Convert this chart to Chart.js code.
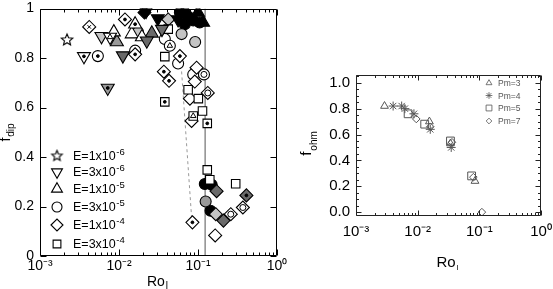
<!doctype html>
<html lang="en">
<head>
<meta charset="utf-8">
<title>f_dip and f_ohm versus Ro_l</title>
<script src="https://cdn.jsdelivr.net/npm/chart.js@4.4.0/dist/chart.umd.min.js"></script>
<style>
  html, body { margin: 0; padding: 0; background: #fff; }
  #wrap { position: relative; width: 553px; height: 289px; overflow: hidden; }
  #left { position: absolute; left: 0; top: 0; }
  #right { position: absolute; left: 285px; top: 0; }
</style>
</head>
<body>
<div id="wrap">
  <canvas id="left" width="298" height="289"></canvas>
  <canvas id="right" width="268" height="289"></canvas>
</div>
<script>
// ---- left panel: f_dip vs Ro_l, points are [Ro_l, f_dip, inner mark]
const eMant = ['1', '3', '1', '3', '1', '3'];
const eExp = ['-6', '-6', '-5', '-5', '-4', '-4'];
const eShapes = ['star', 'tdown', 'tup', 'circ', 'diam', 'sq'];

const starWhite = [[0.0022, 0.873]];

const tdownWhite = [[0.0036, 0.807, 'dot'], [0.0077, 0.885, 'tri']];
const tdownLight = [[0.0060, 0.888]];
const tdownGray = [[0.0072, 0.679, 'dot']];
const tdownDark = [[0.0112, 0.81], [0.0225, 0.87], [0.035, 0.917]];
const tdownBlack = [[0.022, 0.99], [0.031, 0.96], [0.056, 0.956]];

const tupWhite = [[0.0086, 0.905], [0.0145, 0.897], [0.016, 0.937, 'dot'], [0.0195, 0.885]];
const tupGray = [[0.0094, 0.865]];
const tupDark = [[0.026, 0.90]];
const tupBlack = [[0.068, 0.996], [0.10, 0.984], [0.116, 0.944]];

const circWhite = [[0.0054, 0.808, 'dot'], [0.016, 0.83], [0.038, 0.877], [0.044, 0.85, 'tri'],
  [0.056, 0.778], [0.087, 0.734], [0.119, 0.734, 'ring']];
const circLight = [[0.0174, 0.905], [0.062, 0.897], [0.092, 0.865]];
const circGray = [[0.125, 0.22]];
const circBlack = [[0.059, 0.984], [0.075, 0.968], [0.087, 0.952], [0.105, 0.944], [0.068, 0.937],
  [0.122, 0.291], [0.149, 0.288], [0.144, 0.183]];

const diamWhite = [[0.0042, 0.926, 'x'], [0.0119, 0.956, 'dot'], [0.016, 0.815, 'dot'], [0.059, 0.808, 'dot'],
  [0.037, 0.745, 'dot'], [0.043, 0.708, 'dot'], [0.096, 0.761], [0.091, 0.705], [0.079, 0.636],
  [0.133, 0.659, 'ring'], [0.083, 0.546], [0.26, 0.169, 'ring'], [0.37, 0.196, 'ring'],
  [0.165, 0.083], [0.085, 0.136, 'dot']];
const diamLight = [[0.042, 0.956], [0.168, 0.169]];
const diamDark = [[0.172, 0.262], [0.21, 0.143], [0.41, 0.245, 'dot']];
const diamBlack = [[0.021, 0.984]];

const sqWhite = [[0.042, 0.917], [0.038, 0.806], [0.038, 0.623, 'dot'], [0.075, 0.672], [0.101, 0.636],
  [0.114, 0.586], [0.087, 0.566, 'tri'], [0.131, 0.536, 'dot'], [0.131, 0.348], [0.141, 0.308], [0.30, 0.292]];

const roCrit = 0.123;
const dashRo = [0.062, 0.083];
const dashF = [0.746, 0.155];

// ---- right panel: f_ohm vs Ro_l, [Ro_l, f_ohm]
const pmLabels = ['Pm=3', 'Pm=4', 'Pm=5', 'Pm=7'];
const pm3 = [[0.0029, 0.82], [0.0155, 0.70], [0.034, 0.53], [0.085, 0.24]];
const pm4 = [[0.0040, 0.82], [0.0055, 0.82], [0.0062, 0.80], [0.0087, 0.76], [0.016, 0.64], [0.035, 0.50]];
const pm5 = [[0.0070, 0.76], [0.013, 0.68], [0.034, 0.55], [0.075, 0.28]];
const pm7 = [[0.0095, 0.72], [0.016, 0.66], [0.036, 0.54], [0.080, 0.27], [0.11, 0.0]];

// ---- ticks
const xTicks = [0.001, 0.01, 0.1, 1];
const yTicksLeft = [0, 0.2, 0.4, 0.6, 0.8, 1];
const yTicksRight = [0, 0.2, 0.4, 0.6, 0.8, 1.0];

Chart.defaults.font.family = '"Liberation Sans", Arial, Helvetica, sans-serif';
Chart.defaults.color = '#000';

const SUP = { '-': '\u207B', '0': '\u2070', '1': '\u00B9', '2': '\u00B2', '3': '\u00B3' };
function decadeLabel(v) {
  const e = String(Math.round(Math.log10(v)));
  return '10' + e.split('').map(c => SUP[c]).join('');
}

// five point star marker, drawn once into a small canvas
function makeStar(r) {
  const c = document.createElement('canvas');
  const s = Math.ceil(r * 2 + 4);
  c.width = s; c.height = s;
  const g = c.getContext('2d');
  g.beginPath();
  for (let i = 0; i < 10; i++) {
    const a = -Math.PI / 2 + i * Math.PI / 5;
    const rr = i % 2 ? r * 0.45 : r;
    const px = s / 2 + Math.cos(a) * rr, py = s / 2 + Math.sin(a) * rr;
    if (i === 0) g.moveTo(px, py); else g.lineTo(px, py);
  }
  g.closePath();
  g.fillStyle = '#fff'; g.fill();
  g.lineWidth = 1.1; g.strokeStyle = '#000'; g.stroke();
  return c;
}
const starImg = makeStar(6);
const starSmall = makeStar(5.5);

const shapeStyle = {
  star: { pointStyle: starImg, rotation: 0, radius: 6 },
  tdown: { pointStyle: 'triangle', rotation: 180, radius: 7.5 },
  tup: { pointStyle: 'triangle', rotation: 0, radius: 7.5 },
  circ: { pointStyle: 'circle', rotation: 0, radius: 5.5 },
  diam: { pointStyle: 'rectRot', rotation: 0, radius: 6.5 },
  sq: { pointStyle: 'rect', rotation: 0, radius: 6 }
};
const legendStyle = {
  star: { pointStyle: starSmall, rotation: 0, radius: 5.5 },
  tdown: { pointStyle: 'triangle', rotation: 180, radius: 6.3 },
  tup: { pointStyle: 'triangle', rotation: 0, radius: 6.3 },
  circ: { pointStyle: 'circle', rotation: 0, radius: 5 },
  diam: { pointStyle: 'rectRot', rotation: 0, radius: 6 },
  sq: { pointStyle: 'rect', rotation: 0, radius: 5.5 }
};
const fills = { white: '#ffffff', light: '#c4c4c4', gray: '#9a9a9a', dark: '#6a6a6a', black: '#000000' };

function toXY(arr) { return arr.map(p => ({ x: p[0], y: p[1] })); }

function markerSet(arr, shape, fill) {
  const st = shapeStyle[shape];
  return {
    data: toXY(arr),
    pointStyle: st.pointStyle,
    rotation: st.rotation,
    pointRadius: st.radius,
    pointHoverRadius: st.radius,
    backgroundColor: fills[fill],
    borderColor: '#000',
    borderWidth: 1.1,
    order: 5
  };
}

const groups = [
  [starWhite, 'star', 'white'],
  [tdownWhite, 'tdown', 'white'], [tdownLight, 'tdown', 'light'], [tdownGray, 'tdown', 'gray'],
  [tdownDark, 'tdown', 'dark'], [tdownBlack, 'tdown', 'black'],
  [tupWhite, 'tup', 'white'], [tupGray, 'tup', 'gray'], [tupDark, 'tup', 'dark'], [tupBlack, 'tup', 'black'],
  [sqWhite, 'sq', 'white'],
  [diamWhite, 'diam', 'white'], [diamLight, 'diam', 'light'], [diamDark, 'diam', 'dark'], [diamBlack, 'diam', 'black'],
  [circWhite, 'circ', 'white'], [circLight, 'circ', 'light'], [circGray, 'circ', 'gray'], [circBlack, 'circ', 'black']
];

// small marks drawn inside some of the markers
const allPts = groups.flatMap(g => g[0]);
function innerSet(kind, style, radius, filled) {
  return {
    data: toXY(allPts.filter(p => p[2] === kind)),
    pointStyle: style,
    pointRadius: radius,
    pointHoverRadius: radius,
    backgroundColor: filled ? '#000' : 'rgba(0,0,0,0)',
    borderColor: '#000',
    borderWidth: 1,
    order: 0
  };
}

const leftSets = [
  { data: [{ x: roCrit, y: 0 }, { x: roCrit, y: 1 }], showLine: true, pointRadius: 0,
    borderColor: '#555', borderWidth: 1, order: 10 },
  { data: [{ x: dashRo[0], y: dashF[0] }, { x: dashRo[1], y: dashF[1] }], showLine: true, pointRadius: 0,
    borderColor: '#999', borderWidth: 1, borderDash: [3, 3], order: 10 }
].concat(groups.map(g => markerSet(g[0], g[1], g[2])))
 .concat([innerSet('dot', 'circle', 1.4, true), innerSet('ring', 'circle', 3, false),
          innerSet('tri', 'triangle', 3.2, false), innerSet('x', 'crossRot', 2.5, false)]);

// frame with inward ticks on all four sides
const framePlugin = {
  id: 'frame',
  afterDatasetsDraw(chart, args, o) {
    const { ctx, chartArea: a, scales: { x, y } } = chart;
    ctx.save();
    ctx.strokeStyle = o.color;
    ctx.lineWidth = 1;
    const L = Math.round(a.left) + 0.5, R = Math.round(a.right) - 0.5;
    const T = Math.round(a.top) + 0.5, B = Math.round(a.bottom) - 0.5;
    ctx.beginPath();
    ctx.rect(L, T, R - L, B - T);
    for (let e = -3; e <= 0; e++) {
      for (let m = 1; m <= 9; m++) {
        const v = m * Math.pow(10, e);
        if (v > x.max * 1.0001) break;
        const px = Math.round(x.getPixelForValue(v)) + 0.5;
        const len = m === 1 ? o.major : o.minor;
        ctx.moveTo(px, B); ctx.lineTo(px, B - len);
        ctx.moveTo(px, T); ctx.lineTo(px, T + len);
      }
    }
    y.ticks.forEach(t => {
      const py = Math.round(y.getPixelForValue(t.value)) + 0.5;
      ctx.moveTo(L, py); ctx.lineTo(L + o.major, py);
      ctx.moveTo(R, py); ctx.lineTo(R - o.major, py);
    });
    if (o.yMinor) {
      for (let v = Math.ceil(y.min / o.yMinor) * o.yMinor; v <= y.max; v += o.yMinor) {
        const py = Math.round(y.getPixelForValue(v)) + 0.5;
        ctx.moveTo(L, py); ctx.lineTo(L + o.minor, py);
        ctx.moveTo(R, py); ctx.lineTo(R - o.minor, py);
      }
    }
    ctx.stroke();
    ctx.restore();
  }
};

// axis titles with subscripts, and the in-plot legends
function subText(ctx, main, sub, x, y, size, subSize, subDrop, rot, color) {
  ctx.save();
  ctx.translate(x, y);
  ctx.rotate(rot);
  ctx.fillStyle = color;
  ctx.textBaseline = 'alphabetic';
  ctx.font = size + 'px ' + Chart.defaults.font.family;
  const w1 = ctx.measureText(main).width;
  ctx.font = subSize + 'px ' + Chart.defaults.font.family;
  const w2 = ctx.measureText(sub).width;
  const x0 = -(w1 + w2) / 2;
  ctx.font = size + 'px ' + Chart.defaults.font.family;
  ctx.fillText(main, x0, 0);
  ctx.font = subSize + 'px ' + Chart.defaults.font.family;
  ctx.fillText(sub, x0 + w1 + 1, subDrop);
  ctx.restore();
}

const textPlugin = {
  id: 'texts',
  afterDraw(chart, args, o) {
    const ctx = chart.ctx;
    o.titles.forEach(t => subText(ctx, t.main, t.sub, t.x, t.y, t.size, t.subSize, t.drop, t.rot, t.color));
    const lg = o.legend;
    lg.items.forEach((it, i) => {
      const yy = lg.rows[i];
      ctx.save();
      ctx.fillStyle = '#fff';
      ctx.strokeStyle = lg.color;
      ctx.lineWidth = lg.lineWidth;
      Chart.helpers.drawPoint(ctx, { pointStyle: it.style, rotation: it.rotation, radius: it.radius, borderWidth: lg.lineWidth }, lg.mx, yy);
      ctx.fillStyle = lg.color;
      ctx.textBaseline = 'middle';
      ctx.font = lg.size + 'px ' + Chart.defaults.font.family;
      ctx.fillText(it.text, lg.tx, yy + 1);
      if (it.sup) {
        const w = ctx.measureText(it.text).width;
        ctx.font = lg.supSize + 'px ' + Chart.defaults.font.family;
        ctx.fillText(it.sup, lg.tx + w + 0.5, yy - 4);
      }
      ctx.restore();
    });
  }
};

function fixArea(w, h) {
  return {
    y: s => { s.width = w; s.paddingTop = 0; s.paddingBottom = 0; },
    x: s => { s.height = h; s.paddingLeft = 0; s.paddingRight = 0; }
  };
}

const fitL = fixArea(40, 33);
new Chart(document.getElementById('left'), {
  type: 'scatter',
  data: { datasets: leftSets },
  plugins: [framePlugin, textPlugin],
  options: {
    responsive: false,
    animation: false,
    devicePixelRatio: 1,
    layout: { padding: { top: 4, right: 21, left: 0, bottom: 0 } },
    scales: {
      x: {
        type: 'logarithmic', min: 0.001, max: 1,
        afterBuildTicks: s => { s.ticks = xTicks.map(v => ({ value: v })); },
        afterFit: fitL.x,
        grid: { display: false, drawTicks: false }, border: { display: false },
        ticks: { font: { size: 14 }, padding: 2, autoSkip: false, maxRotation: 0, callback: v => decadeLabel(v) }
      },
      y: {
        min: 0, max: 1,
        afterBuildTicks: s => { s.ticks = yTicksLeft.map(v => ({ value: v })); },
        afterFit: fitL.y,
        grid: { display: false, drawTicks: false }, border: { display: false },
        ticks: { font: { size: 14 }, padding: 6, callback: v => (v === 0 || v === 1) ? String(v) : v.toFixed(1) }
      }
    },
    plugins: {
      legend: { display: false }, tooltip: { enabled: false },
      frame: { color: '#000', major: 6, minor: 3 },
      texts: {
        titles: [
          { main: 'f', sub: 'dip', x: 10, y: 133, size: 14, subSize: 10, drop: 4, rot: -Math.PI / 2, color: '#000' },
          { main: 'Ro', sub: 'l', x: 157, y: 286, size: 14, subSize: 10, drop: 3, rot: 0, color: '#000' }
        ],
        legend: {
          mx: 57, tx: 73, size: 12.5, supSize: 9.5, color: '#000', lineWidth: 1.1,
          rows: [156, 172, 189, 207, 225, 244],
          items: eShapes.map((sh, i) => ({
            style: legendStyle[sh].pointStyle, rotation: legendStyle[sh].rotation, radius: legendStyle[sh].radius,
            text: 'E=' + eMant[i] + 'x10', sup: eExp[i]
          }))
        }
      }
    }
  }
});

// ---- right panel
const pmShapes = [['triangle', 0, 4.5], ['star', 0, 4.5], ['rect', 0, 5.5], ['rectRot', 0, 3.8]];
const pmData = [pm3, pm4, pm5, pm7];
const rightSets = pmData.map((arr, i) => ({
  data: toXY(arr),
  pointStyle: pmShapes[i][0], rotation: pmShapes[i][1],
  pointRadius: pmShapes[i][2], pointHoverRadius: pmShapes[i][2],
  backgroundColor: 'rgba(0,0,0,0)', borderColor: '#555', borderWidth: 1
}));

const fitR = fixArea(71, 73);
new Chart(document.getElementById('right'), {
  type: 'scatter',
  data: { datasets: rightSets },
  plugins: [framePlugin, textPlugin],
  options: {
    responsive: false,
    animation: false,
    devicePixelRatio: 1,
    layout: { padding: { top: 75, right: 12, left: 0, bottom: 0 } },
    scales: {
      x: {
        type: 'logarithmic', min: 0.001, max: 1,
        afterBuildTicks: s => { s.ticks = xTicks.map(v => ({ value: v })); },
        afterFit: fitR.x,
        grid: { display: false, drawTicks: false }, border: { display: false },
        ticks: { font: { size: 15 }, padding: 7, autoSkip: false, maxRotation: 0, callback: v => decadeLabel(v) }
      },
      y: {
        min: -0.03, max: 1.06,
        afterBuildTicks: s => { s.ticks = yTicksRight.map(v => ({ value: v })); },
        afterFit: fitR.y,
        grid: { display: false, drawTicks: false }, border: { display: false },
        ticks: { font: { size: 15 }, padding: 6, callback: v => v.toFixed(1) }
      }
    },
    plugins: {
      legend: { display: false }, tooltip: { enabled: false },
      frame: { color: '#222', major: 5, minor: 2.5, yMinor: 0.05 },
      texts: {
        titles: [
          { main: 'f', sub: 'ohm', x: 311 - 285, y: 144, size: 15, subSize: 10, drop: 6, rot: -Math.PI / 2, color: '#000' },
          { main: 'Ro', sub: 'l', x: 447 - 285, y: 267, size: 15, subSize: 8, drop: 3, rot: 0, color: '#000' }
        ],
        legend: {
          mx: 204, tx: 213, size: 8.5, supSize: 6, color: '#555', lineWidth: 0.8,
          rows: [83, 95.5, 108, 121],
          items: pmLabels.map((t, i) => ({
            style: pmShapes[i][0], rotation: 0, radius: pmShapes[i][2] * 0.75, text: t, sup: ''
          }))
        }
      }
    }
  }
});
</script>
</body>
</html>
